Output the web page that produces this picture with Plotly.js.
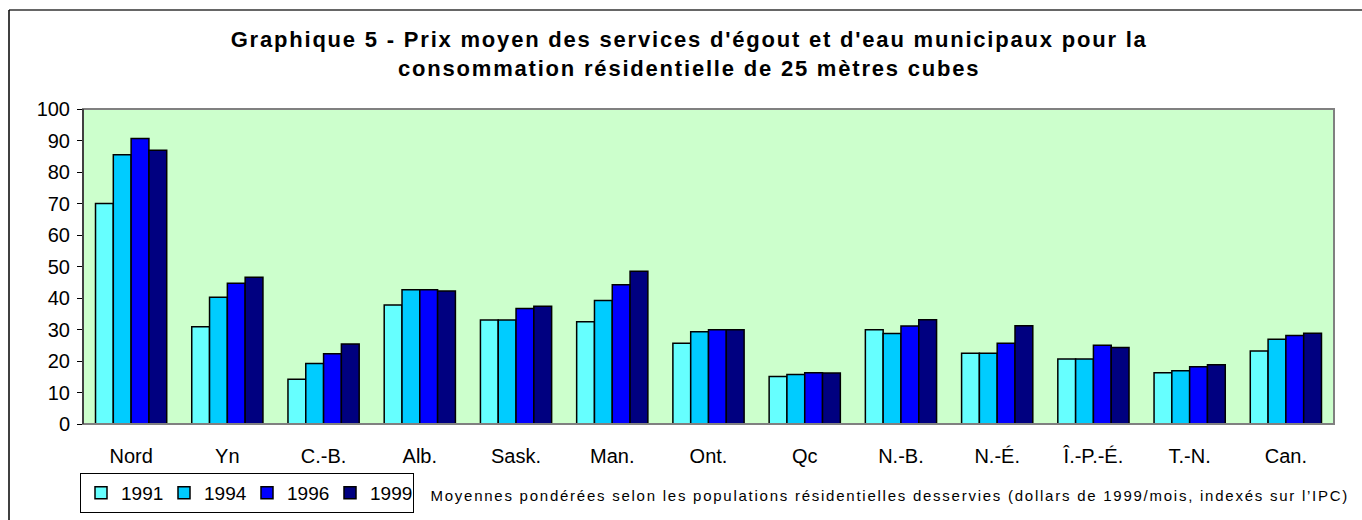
<!DOCTYPE html>
<html>
<head>
<meta charset="utf-8">
<script src="https://cdn.plot.ly/plotly-3.0.1.min.js"></script>
<style>
  html, body { margin: 0; padding: 0; background: #ffffff; }
  #chart { width: 1362px; height: 520px; }
  #chart .gtitle { letter-spacing: 1.8px; }
  #chart .annotation-text { letter-spacing: 1.75px; }
</style>
</head>
<body>
<div id="chart"></div>
<script>
const categories = ["Nord", "Yn", "C.-B.", "Alb.", "Sask.", "Man.", "Ont.", "Qc", "N.-B.", "N.-É.", "Î.-P.-É.", "T.-N.", "Can."];
const seriesNames = ["1991", "1994", "1996", "1999"];
const values1991 = [70.0, 30.9, 14.2, 37.8, 33.0, 32.5, 25.6, 15.1, 29.9, 22.5, 20.6, 16.3, 23.2];
const values1994 = [85.5, 40.2, 19.2, 42.6, 33.0, 39.2, 29.3, 15.7, 28.7, 22.5, 20.6, 16.9, 26.9];
const values1996 = [90.6, 44.7, 22.3, 42.6, 36.7, 44.2, 29.9, 16.3, 31.1, 25.6, 25.0, 18.2, 28.1];
const values1999 = [86.9, 46.6, 25.4, 42.2, 37.4, 48.5, 29.9, 16.2, 33.1, 31.2, 24.3, 18.8, 28.8];
const yTicks = [0, 10, 20, 30, 40, 50, 60, 70, 80, 90, 100];
const titleText = "Graphique 5 - Prix moyen des services d'égout et d'eau municipaux pour la<br>consommation résidentielle de 25 mètres cubes";
const noteText = "Moyennes pondérées selon les populations résidentielles desservies (dollars de 1999/mois, indexés sur l\u2019IPC)";

const colors = ["#66FFFF", "#00CCFF", "#0000FF", "#000080"];
const allValues = [values1991, values1994, values1996, values1999];

const traces = allValues.map((vals, i) => ({
  type: "bar",
  name: seriesNames[i],
  x: categories,
  y: vals,
  marker: { color: colors[i], line: { color: "#000000", width: 1.5 } },
  hoverinfo: "x+y+name"
}));

const font = "Liberation Sans, Arial, sans-serif";

// plot area in pixels: x 83..1334, y 109..424
const PL = 83, PR = 1334, PT = 109, PB = 424;
const px2x = p => (p - PL) / (PR - PL);
const px2y = p => (PB - p) / (PB - PT);

const layout = {
  width: 1362,
  height: 520,
  paper_bgcolor: "#ffffff",
  plot_bgcolor: "#CCFFCC",
  margin: { l: PL, r: 1362 - PR, t: PT, b: 520 - PB, autoexpand: false },
  barmode: "group",
  bargap: 0.26,
  bargroupgap: 0,
  showlegend: true,
  title: {
    text: titleText,
    font: { family: font, size: 22, color: "#000000", weight: "bold" },
    x: 0.506,
    xanchor: "center",
    yref: "container",
    y: 1 - 47 / 520,
    yanchor: "middle"
  },
  xaxis: {
    type: "category",
    showgrid: false,
    zeroline: false,
    showline: false,
    ticks: "",
    ticklabelstandoff: 18,
    tickfont: { family: font, size: 20, color: "#000000" },
    fixedrange: true
  },
  yaxis: {
    range: [0, 100],
    tickvals: yTicks,
    ticktext: yTicks.map(String),
    showgrid: false,
    zeroline: false,
    showline: true,
    linecolor: "#000000",
    linewidth: 1,
    ticks: "outside",
    ticklen: 5,
    tickcolor: "#000000",
    ticklabelstandoff: 3,
    tickfont: { family: font, size: 20, color: "#000000" },
    fixedrange: true
  },
  legend: {
    orientation: "h",
    x: px2x(80),
    xanchor: "left",
    y: px2y(473),
    yanchor: "top",
    bordercolor: "#000000",
    borderwidth: 1,
    bgcolor: "#ffffff",
    font: { family: font, size: 19, color: "#000000" },
    itemwidth: 30,
    entrywidth: 38,
    tracegroupgap: 0,
    traceorder: "normal"
  },
  annotations: [
    {
      text: noteText,
      xref: "paper",
      yref: "paper",
      x: px2x(890),
      xanchor: "center",
      y: px2y(495),
      yanchor: "middle",
      showarrow: false,
      font: { family: font, size: 15, color: "#000000" }
    }
  ],
  shapes: [
    {
      type: "rect", xref: "paper", yref: "paper",
      x0: 0, x1: 1, y0: 0, y1: 1,
      line: { color: "#808080", width: 2 },
      fillcolor: "rgba(0,0,0,0)",
      layer: "above"
    },
    {
      type: "line", xref: "paper", yref: "paper",
      x0: 0, x1: 0, y0: 0, y1: 1,
      line: { color: "#000000", width: 1 },
      layer: "above"
    },
    {
      type: "line", xref: "paper", yref: "paper",
      x0: px2x(9), x1: px2x(1380), y0: px2y(10), y1: px2y(10),
      line: { color: "#333333", width: 1.5 },
      layer: "above"
    },
    {
      type: "line", xref: "paper", yref: "paper",
      x0: px2x(9), x1: px2x(9), y0: px2y(10), y1: px2y(540),
      line: { color: "#000000", width: 1.5 },
      layer: "above"
    }
  ]
};

Plotly.newPlot("chart", traces, layout, { displayModeBar: false, staticPlot: true });
</script>
</body>
</html>
